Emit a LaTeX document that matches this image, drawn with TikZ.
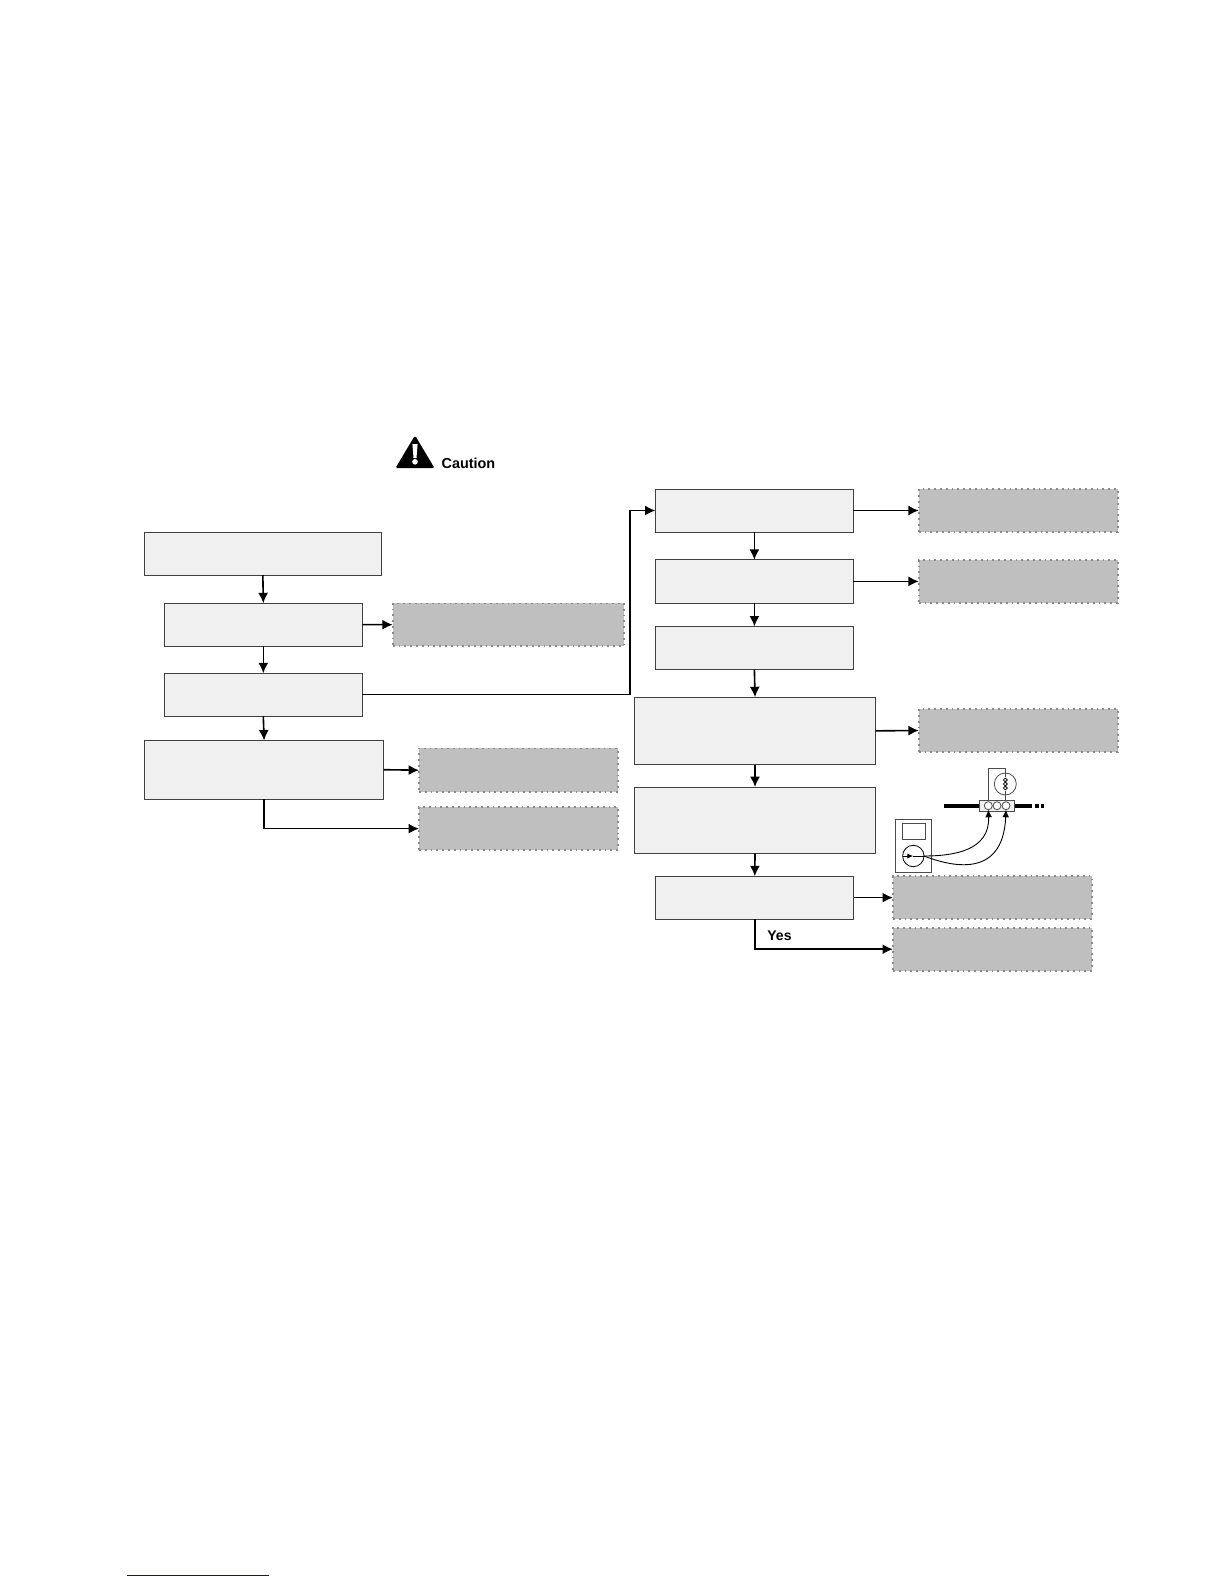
\documentclass[tikz,border=0pt]{standalone}
\usepackage{fontspec}
\setmainfont{Liberation Sans}
\usetikzlibrary{arrows.meta}
\newcommand{\bx}[6]{%
  \pgfmathsetmacro{\bxw}{(#5-#3)*0.5}%
  \pgfmathsetmacro{\bxh}{(#6-#4)*0.5}%
  \node[#2,minimum width=\bxw pt,minimum height=\bxh pt] (#1) at ({(#3+#5)/2},{(#4+#6)/2}) {};}
\tikzset{
  x=0.5pt,y=-0.5pt,
  stepbox/.style={draw=black!75,line width=0.5pt,fill=boxfill,inner sep=0pt,outer sep=0pt},
  endbox/.style={draw=dotgray,line width=0.9pt,dotted,fill=endfill,inner sep=0pt,outer sep=0pt},
  flow/.style={draw=black,line width=0.8pt,-{Latex[length=5.2pt,width=5pt]}},
  probe/.style={draw=black,line width=0.45pt,-{Latex[length=3.8pt,width=3.4pt]}},
  thin line/.style={draw=black!70,line width=0.4pt},
  terminal/.style={circle,draw=black!70,line width=0.4pt,fill=white,minimum size=4pt,inner sep=0pt,outer sep=0pt},
  label text/.style={font=\bfseries\fontsize{7}{8}\selectfont,inner sep=0pt}
}
\definecolor{boxfill}{HTML}{F0F0F0}
\definecolor{endfill}{HTML}{BFBFBF}
\definecolor{dotgray}{HTML}{8A8A8A}
\definecolor{linkblue}{HTML}{10108C}
\begin{document}
\begin{tikzpicture}
\useasboundingbox (0,0) rectangle (1224,1584);
% left column
\bx{a}{stepbox}{144.4}{532.3}{381.3}{575}
\bx{b}{stepbox}{164.3}{603.2}{362.3}{646}
\bx{c}{stepbox}{164.3}{673.2}{362.3}{716}
\bx{d}{stepbox}{144.4}{740.4}{383.8}{799}
\bx{ga}{endbox}{392.7}{603.4}{624}{646}
\bx{gb}{endbox}{419}{748.4}{618}{792}
\bx{gc}{endbox}{419}{807.2}{618}{850}
% right column
\bx{r1}{stepbox}{655.4}{489}{853.4}{532}
\bx{r2}{stepbox}{655.4}{559.8}{853.4}{603}
\bx{r3}{stepbox}{655.4}{626.4}{853.4}{669.6}
\bx{r4}{stepbox}{634.4}{697.2}{875.6}{764.5}
\bx{r5}{stepbox}{634.4}{787}{875.6}{853.4}
\bx{r6}{stepbox}{655.9}{876.2}{853.7}{919}
\bx{g1}{endbox}{918.8}{489}{1117.6}{532}
\bx{g2}{endbox}{918.8}{559.8}{1117.6}{603}
\bx{g4}{endbox}{918.8}{709}{1117.6}{752}
\bx{g6}{endbox}{892.9}{876.2}{1092}{919}
\bx{g7}{endbox}{892.9}{927.8}{1092}{970.6}
% connectors
\draw[flow] (a.south) -- (b.north);
\draw[flow] (b.south) -- (c.north);
\draw[flow] (c.south) -- (d.north);
\draw[flow] (b.east) -- (ga.west);
\draw[flow] (d.east) -- (gb.west);
\draw[flow] (d.south) |- (gc.west);
\coordinate (turn) at (630,510.5);
\draw[flow] (c.east) -| (turn) -- (r1.west);
\draw[flow] (r1.south) -- (r2.north);
\draw[flow] (r2.south) -- (r3.north);
\draw[flow] (r3.south) -- (r4.north);
\draw[flow] (r4.south) -- (r5.north);
\draw[flow] (r5.south) -- (r6.north);
\draw[flow] (r1.east) -- (g1.west);
\draw[flow] (r2.east) -- (g2.west);
\draw[flow] (r4.east) -- (g4.west);
\draw[flow] (r6.east) -- (g6.west);
\draw[flow] (r6.south) |- (g7.west);
\node[label text,anchor=west] (yes) at (767,935.7) {Yes};
% caution sign
\fill[black,rounded corners=0.8pt] (415,435.4) -- (434.6,468.2) -- (395.4,468.2) -- cycle;
\fill[white] (412.4,444) -- (417.6,444) -- (416.5,458) -- (413.5,458) -- cycle;
\fill[white] (415,461.8) circle (2.8);
\node[label text,font=\bfseries\fontsize{7.2}{8}\selectfont,anchor=west] (caution) at (441.2,463.3) {Caution};
% meter and sensor
\draw[black,line width=2pt] (944,805.7) -- (1031.7,805.7);
\draw[black,line width=2pt] (1035,805.7) -- (1039.3,805.7);
\draw[black,line width=2pt] (1040.5,805.7) -- (1044,805.7);
\draw[thin line] (988.3,800.7) -- (988.3,768.3) -- (1005.3,768.3) -- (1005.3,800.7);
\node[circle,draw=black!70,line width=0.4pt,fill=white,minimum size=11pt,inner sep=0pt] (sens) at (1005.3,784) {};
\draw[thin line] (1005.3,772) -- (1005.3,777);
\draw[thin line] (1005.3,791) -- (1005.3,800.7);
\draw[black,line width=0.4pt] (1005.3,780) circle (1.9) (1005.3,784) circle (1.9) (1005.3,788) circle (1.9);
\bx{conn}{draw=black!70,line width=0.4pt,fill=boxfill,inner sep=0pt,outer sep=0pt}{979.3}{800.7}{1014.7}{811}
\node[terminal] (t1) at (988.3,805.7) {};
\node[terminal] (t2) at (997,805.7) {};
\node[terminal] (t3) at (1006,805.7) {};
\bx{meter}{draw=black!70,line width=0.5pt,fill=white,inner sep=0pt,outer sep=0pt}{895.7}{819.3}{931.7}{872.3}
\bx{screen}{draw=black!70,line width=0.4pt,fill=white,inner sep=0pt,outer sep=0pt}{902.3}{823.3}{925.7}{839.3}
\node[circle,draw=black,line width=0.4pt,fill=white,minimum size=10.7pt,inner sep=0pt,outer sep=0pt] (dial) at (913.3,856) {};
\draw[draw=black,line width=0.5pt,-{Latex[length=3pt,width=2.6pt]}] (dial.west) -- (dial.center);
\draw[draw=black,line width=0.5pt] (dial.center) -- (dial.east);
\draw[probe] (dial.east) .. controls (955,856) and (990,850) .. (t1.south);
\draw[probe] (dial.east) .. controls (950,866) and (1003,880) .. (t3.south);
% footer rule
\draw[linkblue,line width=0.5pt] (127,1575) -- (269,1575);
\end{tikzpicture}
\end{document}
